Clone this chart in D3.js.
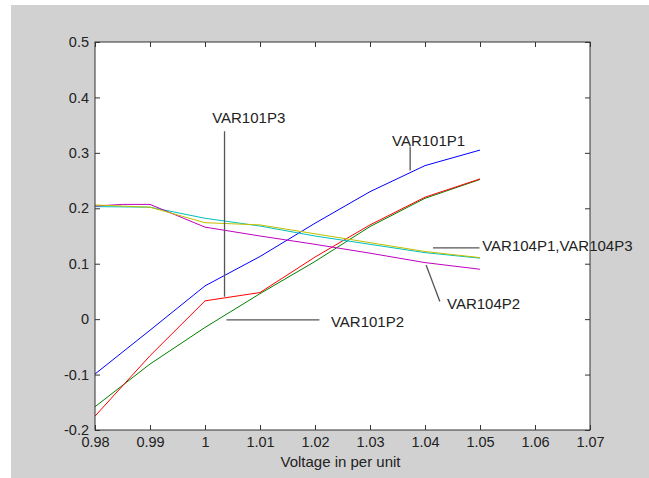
<!DOCTYPE html>
<html>
<head>
<meta charset="utf-8">
<script src="https://cdn.jsdelivr.net/npm/d3@7"></script>
<style>
  body { margin: 0; background: #fff; }
  text { font-family: "Liberation Sans", Arial, sans-serif; fill: #222; }
</style>
</head>
<body>
<div id="chart"></div>
<script>
// Voltage steps (x) shared by most series
const voltage = [0.98, 0.99, 1.00, 1.01, 1.02, 1.03, 1.04, 1.05];
// VAR104P2 has an extra early point
const voltageP2 = [0.98, 0.985, 0.99, 1.00, 1.01, 1.02, 1.03, 1.04, 1.05];

const var101p1 = [-0.099, -0.020, 0.060, 0.113, 0.173, 0.230, 0.277, 0.305];
const var101p2 = [-0.158, -0.081, -0.015, 0.046, 0.104, 0.167, 0.218, 0.252];
const var101p3 = [-0.175, -0.066, 0.033, 0.048, 0.112, 0.170, 0.220, 0.253];
const var104p1 = [0.203, 0.202, 0.182, 0.168, 0.150, 0.135, 0.120, 0.110];
const var104p2 = [0.204, 0.207, 0.207, 0.166, 0.150, 0.135, 0.119, 0.102, 0.090];
const var104p3 = [0.206, 0.202, 0.174, 0.170, 0.154, 0.138, 0.122, 0.111];

const xTicks = [0.98, 0.99, 1.00, 1.01, 1.02, 1.03, 1.04, 1.05, 1.06, 1.07];
const yTicks = [-0.2, -0.1, 0, 0.1, 0.2, 0.3, 0.4, 0.5];
const xLabel = "Voltage in per unit";

// Series in plotting order (matlab b, g, r, c, m, y)
const series = [
  {name: "VAR101P1", x: voltage, y: var101p1, colour: "#0000ff"},
  {name: "VAR101P2", x: voltage, y: var101p2, colour: "#008000"},
  {name: "VAR101P3", x: voltage, y: var101p3, colour: "#ff0000"},
  {name: "VAR104P1", x: voltage, y: var104p1, colour: "#00bfbf"},
  {name: "VAR104P2", x: voltageP2, y: var104p2, colour: "#bf00bf"},
  {name: "VAR104P3", x: voltage, y: var104p3, colour: "#bfbf00"}
];

// Text labels with leader lines, in data units
const annotations = [
  {text: "VAR101P3", tx: 1.0013, ty: 0.354, line: [[1.00355, 0.339], [1.00355, 0.0405]]},
  {text: "VAR101P1", tx: 1.0340, ty: 0.3115, line: [[1.0373, 0.3115], [1.0373, 0.268]]},
  {text: "VAR104P1,VAR104P3", tx: 1.0504, ty: 0.1238, line: [[1.04145, 0.1284], [1.0499, 0.1284]]},
  {text: "VAR104P2", tx: 1.0440, ty: 0.0178, line: [[1.0402, 0.0977], [1.0427, 0.0318]]},
  {text: "VAR101P2", tx: 1.0229, ty: -0.0136, line: [[1.0039, -0.0015], [1.0208, -0.0015]]}
];

const drawChart = () => {

  /****************************/
  /* Declare layout constants */
  /****************************/
  const width = 649;
  const height = 478;
  const plot = {left: 95, right: 590, top: 42, bottom: 430};

  const svg = d3.select("#chart")
    .append("svg")
      .attr("width", width)
      .attr("height", height);

  // Grey figure background
  svg.append("rect")
    .attr("x", 11)
    .attr("y", 5)
    .attr("width", width - 11)
    .attr("height", height - 5)
    .attr("fill", "#d1d1d1");

  // White axes area
  svg.append("rect")
    .attr("x", plot.left)
    .attr("y", plot.top)
    .attr("width", plot.right - plot.left)
    .attr("height", plot.bottom - plot.top)
    .attr("fill", "#fff");

  /****************************/
  /*     Declare scales       */
  /****************************/
  const xScale = d3.scaleLinear()
    .domain([0.98, 1.07])
    .range([plot.left, plot.right]);

  const yScale = d3.scaleLinear()
    .domain([-0.2, 0.5])
    .range([plot.bottom, plot.top]);

  const fmt = d => String(+d.toFixed(2));

  /****************************/
  /*     Append axes          */
  /****************************/
  const bottomAxis = d3.axisBottom(xScale)
    .tickValues(xTicks)
    .tickFormat(fmt)
    .tickSizeInner(-5)
    .tickSizeOuter(0)
    .tickPadding(7);
  const gx = svg.append("g")
    .attr("transform", `translate(0, ${plot.bottom})`)
    .call(bottomAxis);

  const topAxis = d3.axisTop(xScale)
    .tickValues(xTicks)
    .tickFormat("")
    .tickSizeInner(-5)
    .tickSizeOuter(0);
  const gxt = svg.append("g")
    .attr("transform", `translate(0, ${plot.top})`)
    .call(topAxis);

  const leftAxis = d3.axisLeft(yScale)
    .tickValues(yTicks)
    .tickFormat(fmt)
    .tickSizeInner(-5)
    .tickSizeOuter(0)
    .tickPadding(6);
  const gy = svg.append("g")
    .attr("transform", `translate(${plot.left}, 0)`)
    .call(leftAxis);

  const rightAxis = d3.axisRight(yScale)
    .tickValues(yTicks)
    .tickFormat("")
    .tickSizeInner(-5)
    .tickSizeOuter(0);
  const gyr = svg.append("g")
    .attr("transform", `translate(${plot.right}, 0)`)
    .call(rightAxis);

  [gx, gxt, gy, gyr].forEach(g => {
    g.select(".domain").remove();
    g.selectAll(".tick line").attr("stroke", "#333");
    g.selectAll("text")
      .attr("fill", "#222")
      .style("font-size", "14.5px")
      .style("font-family", "'Liberation Sans', Arial, sans-serif");
  });

  /****************************/
  /*     Draw series          */
  /****************************/
  const line = d3.line()
    .x(d => xScale(d[0]))
    .y(d => yScale(d[1]));

  svg.append("g")
    .selectAll("path")
    .data(series)
    .join("path")
      .attr("d", s => line(s.x.map((v, i) => [v, s.y[i]])))
      .attr("fill", "none")
      .attr("stroke", s => s.colour)
      .attr("stroke-width", 1);

  // Axes box on top of the lines
  svg.append("rect")
    .attr("x", plot.left)
    .attr("y", plot.top)
    .attr("width", plot.right - plot.left)
    .attr("height", plot.bottom - plot.top)
    .attr("fill", "none")
    .attr("stroke", "#333")
    .attr("stroke-width", 1);

  /****************************/
  /*     Annotations          */
  /****************************/
  const notes = svg.append("g");
  notes.selectAll("line")
    .data(annotations)
    .join("line")
      .attr("x1", d => xScale(d.line[0][0]))
      .attr("y1", d => yScale(d.line[0][1]))
      .attr("x2", d => xScale(d.line[1][0]))
      .attr("y2", d => yScale(d.line[1][1]))
      .attr("stroke", "#555")
      .attr("stroke-width", 1.3);

  notes.selectAll("text")
    .data(annotations)
    .join("text")
      .attr("x", d => xScale(d.tx))
      .attr("y", d => yScale(d.ty))
      .style("font-size", "15px")
      .text(d => d.text);

  // X axis title
  svg.append("text")
    .attr("x", (plot.left + plot.right) / 2 - 2)
    .attr("y", 467)
    .attr("text-anchor", "middle")
    .style("font-size", "15px")
    .text(xLabel);
};

drawChart();
</script>
</body>
</html>
